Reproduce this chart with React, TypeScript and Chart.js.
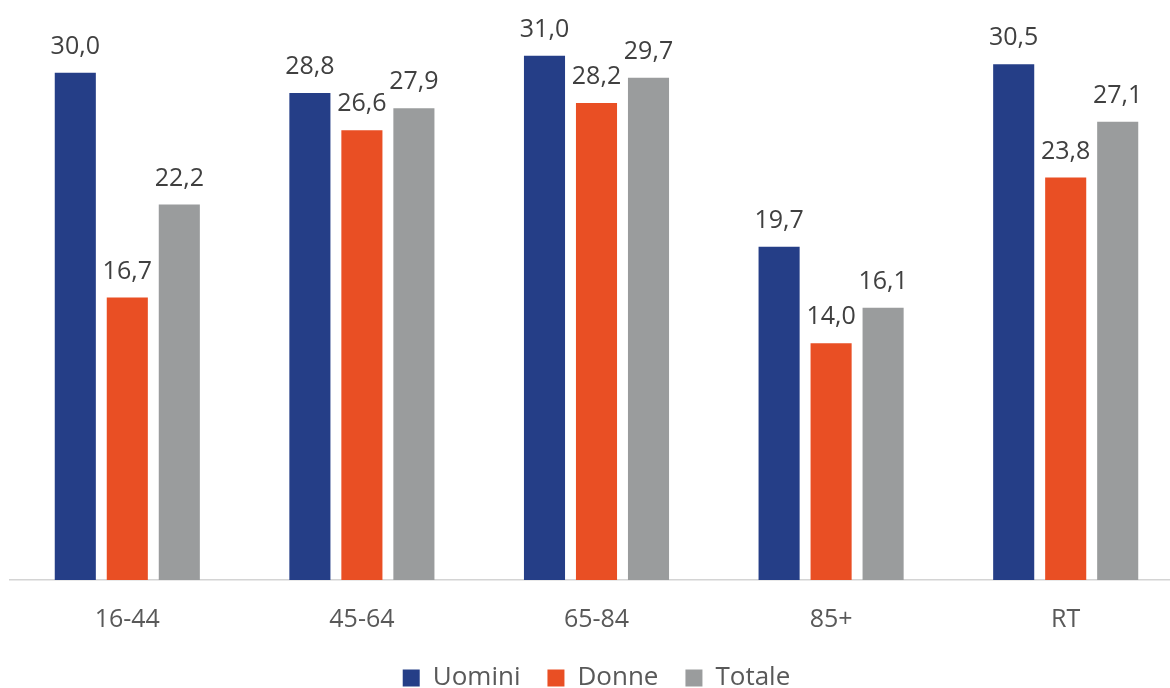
import React, { useEffect, useRef } from 'react';
import { Chart, registerables } from 'chart.js';

Chart.register(...registerables);

const categories = ['16-44', '45-64', '65-84', '85+', 'RT'];
const uomini = [30.0, 28.8, 31.0, 19.7, 30.5];
const donne = [16.7, 26.6, 28.2, 14.0, 23.8];
const totale = [22.2, 27.9, 29.7, 16.1, 27.1];
const seriesNames = ['Uomini', 'Donne', 'Totale'];
const seriesColors = ['#253E87', '#E94F24', '#9A9C9D'];
const textColor = '#595959';
const labelColor = '#404040';
const fontFamily = '"Open Sans", sans-serif';

const valueLabels = {
  id: 'valueLabels',
  afterDatasetsDraw(chart: any) {
    const ctx = chart.ctx;
    ctx.save();
    ctx.font = `25px ${fontFamily}`;
    ctx.fillStyle = labelColor;
    ctx.textAlign = 'center';
    ctx.textBaseline = 'alphabetic';
    chart.data.datasets.forEach((ds: any, i: number) => {
      const meta = chart.getDatasetMeta(i);
      meta.data.forEach((bar: any, j: number) => {
        const v = ds.data[j] as number;
        ctx.fillText(v.toFixed(1).replace('.', ','), bar.x, bar.y - 19);
      });
    });
    ctx.restore();
  },
};

export default function App() {
  const ref = useRef<HTMLCanvasElement>(null);
  useEffect(() => {
    if (!ref.current) return;
    const data = [uomini, donne, totale];
    const chart = new Chart(ref.current, {
      type: 'bar',
      data: {
        labels: categories,
        datasets: seriesNames.map((name, i) => ({
          label: name,
          data: data[i],
          backgroundColor: seriesColors[i],
          borderWidth: 0,
          categoryPercentage: 0.665,
          barPercentage: 0.79,
        })),
      },
      options: {
        responsive: false,
        animation: false,
        devicePixelRatio: 1,
        layout: { padding: { left: 10, right: 1, top: 5, bottom: -13 } },
        plugins: {
          tooltip: { enabled: false },
          legend: {
            position: 'bottom',
            labels: {
              boxWidth: 17,
              boxHeight: 17,
              padding: 27,
              color: textColor,
              font: { family: fontFamily, size: 26 },
            },
          },
        },
        scales: {
          x: {
            grid: { display: true, drawOnChartArea: false, drawTicks: false },
            border: { display: true, color: '#D4D4D4', width: 1.5 },
            ticks: {
              color: textColor,
              padding: 25,
              font: { family: fontFamily, size: 25 },
            },
            afterFit: (scale: any) => {
              scale.height = scale.height - 22;
            },
          },
          y: { display: false, min: 0, max: 34 },
        },
      },
      plugins: [valueLabels],
    });
    return () => chart.destroy();
  }, []);
  return (
    <div style={{ position: 'absolute', left: 0, top: 0, width: 1170, height: 688, overflow: 'hidden', background: '#fff' }}>
      <canvas ref={ref} width={1184} height={688} />
    </div>
  );
}
